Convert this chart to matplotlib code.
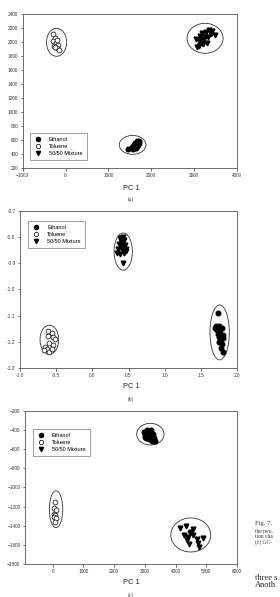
import matplotlib
matplotlib.use('Agg')
from matplotlib import pyplot as plt
from matplotlib.patches import Ellipse

# ---- data ----
# (a)
a_eth_x = [1450, 1543, 1581, 1620, 1660, 1706, 1597, 1674, 1643, 1721, 1566, 1620, 1690, 1610]
a_eth_y = [476, 509, 480, 547, 586, 566, 529, 519, 486, 586, 490, 510, 540, 560]
a_tol_x = [-290, -250, -300, -225, -265, -175, -210, -150, -240, -190]
a_tol_y = [2120, 2060, 2020, 1995, 1950, 1965, 1915, 1885, 1940, 2030]
a_mix_x = [3043, 3121, 3137, 3176, 3190, 3230, 3277, 3307, 3354, 3386, 3487, 3074, 3254, 3331, 3214, 3417, 3121, 3167]
a_mix_y = [2051, 1947, 2090, 1994, 2129, 2043, 2151, 1986, 2176, 2119, 2100, 1937, 2090, 2080, 1976, 2166, 2023, 2043]
a_ellipses = [(-210, 2000, 470, 400), (1565, 535, 623, 270), (3255, 2057, 840, 428)]

# (b)
b_eth_x = [1.734, 1.711, 1.757, 1.790, 1.729, 1.766, 1.803, 1.750, 1.777, 1.757, 1.795, 1.785, 1.803, 1.697, 1.812, 1.740]
b_eth_y = [-1.089, -1.139, -1.141, -1.147, -1.156, -1.166, -1.172, -1.181, -1.191, -1.201, -1.210, -1.222, -1.239, -1.147, -1.187, -1.170]
b_tol_x = [-0.617, -0.562, -0.608, -0.539, -0.516, -0.595, -0.548, -0.654, -0.631, -0.599, -0.562, -0.668]
b_tol_y = [-1.157, -1.167, -1.178, -1.180, -1.190, -1.203, -1.212, -1.218, -1.228, -1.237, -1.227, -1.231]
b_mix_x = [0.38, 0.42, 0.40, 0.44, 0.37, 0.41, 0.45, 0.39, 0.43, 0.36, 0.42, 0.46, 0.34, 0.38, 0.44, 0.47, 0.42]
b_mix_y = [-0.805, -0.800, -0.815, -0.812, -0.825, -0.828, -0.830, -0.840, -0.838, -0.845, -0.850, -0.845,
           -0.862, -0.866, -0.862, -0.852, -0.900]
b_ellipses = [(-0.594, -1.192, 0.258, 0.111), (0.427, -0.855, 0.253, 0.142), (1.76, -1.164, 0.267, 0.21)]

# (c)
c_eth_x = [2960, 3010, 3060, 3110, 3160, 3200, 3250, 3300, 3330, 3050, 3120, 3180, 3240, 2990, 3280, 3150]
c_eth_y = [-420, -450, -400, -430, -470, -405, -440, -490, -515, -490, -500, -460, -520, -470, -470, -420]
c_tol_x = [90, 60, 100, 40, 80, 50, 95, 70]
c_tol_y = [-1150, -1220, -1237, -1273, -1290, -1308, -1325, -1360]
c_mix_x = [4145, 4330, 4578, 4470, 4415, 4363, 4558, 4688, 4903, 4448, 4740, 4773, 4275, 4500]
c_mix_y = [-1421, -1400, -1438, -1480, -1515, -1550, -1497, -1542, -1532, -1591, -1584, -1620, -1497, -1470]
c_ellipses = [(110, -1228, 436, 386), (3180, -445, 890, 226), (4495, -1497, 1300, 355)]

labels = ['Ethanol', 'Toluene', '50/50 Mixture']

W, H = 280, 597
fig = plt.figure(figsize=(W / 100, H / 100), dpi=100)
plt.rcParams['font.family'] = ['Liberation Sans', 'DejaVu Sans']


def px_axes(l, t, r, b):
    return fig.add_axes([l / W, 1 - b / H, (r - l) / W, (b - t) / H])


def panel(ax, eth, tol, mix, ells, legloc):
    ax.plot(eth[0], eth[1], 'o', color='black', markersize=3.3, linestyle='none', label=labels[0])
    ax.plot(tol[0], tol[1], 'o', markerfacecolor='white', markeredgecolor='black', markeredgewidth=0.5,
            markersize=3.5, linestyle='none', label=labels[1])
    ax.plot(mix[0], mix[1], 'v', color='black', markersize=3.4, linestyle='none', label=labels[2])
    for cx, cy, w, h in ells:
        ax.add_patch(Ellipse((cx, cy), w, h, fill=False, lw=0.6, edgecolor='#333333'))
    for s in ax.spines.values():
        s.set_linewidth(0.6)
        s.set_color('#555555')
    ax.tick_params(direction='out', length=1.8, width=0.5, labelsize=3.4, pad=1.5, colors='#333333')
    leg = ax.legend(loc=legloc[0], bbox_to_anchor=legloc[1], fontsize=4.0, frameon=True, fancybox=False,
                    edgecolor='#555555', handletextpad=1.3, borderpad=0.8, labelspacing=0.3,
                    handlelength=1.3, markerscale=0.9)
    leg.get_frame().set_linewidth(0.5)


# (a)
ax1 = px_axes(22.7, 14.3, 237, 168.3)
panel(ax1, (a_eth_x, a_eth_y), (a_tol_x, a_tol_y), (a_mix_x, a_mix_y), a_ellipses, ('lower left', (0.02, 0.035)))
ax1.set_xlim(-1000, 4000)
ax1.set_ylim(200, 2400)
ax1.set_xticks(range(-1000, 4001, 1000))
ax1.set_yticks(range(200, 2401, 200))

# (b)
ax2 = px_axes(20, 211, 237, 368)
panel(ax2, (b_eth_x, b_eth_y), (b_tol_x, b_tol_y), (b_mix_x, b_mix_y), b_ellipses, ('upper left', (0.025, 0.955)))
ax2.set_xlim(-1.0, 2.0)
ax2.set_ylim(-1.3, -0.7)
ax2.set_xticks([-1.0, -0.5, 0.0, 0.5, 1.0, 1.5, 2.0])
ax2.set_yticks([-1.3, -1.2, -1.1, -1.0, -0.9, -0.8, -0.7])
ax2.xaxis.set_major_formatter(matplotlib.ticker.FormatStrFormatter('%.1f'))
ax2.yaxis.set_major_formatter(matplotlib.ticker.FormatStrFormatter('%.1f'))

# (c)
ax3 = px_axes(25, 410.7, 237, 564)
panel(ax3, (c_eth_x, c_eth_y), (c_tol_x, c_tol_y), (c_mix_x, c_mix_y), c_ellipses, ('upper left', (0.025, 0.9)))
ax3.set_xlim(-900, 6000)
ax3.set_ylim(-1800, -200)
ax3.set_xticks(range(0, 6001, 1000))
ax3.set_yticks(range(-1800, -199, 200))


def ftext(x, y, s, **kw):
    fig.text(x / W, 1 - y / H, s, ha=kw.pop('ha', 'center'), va=kw.pop('va', 'center'), **kw)


for y_pc, y_lab, lab in [(188.3, 199, '(a)'), (387, 399, '(b)'), (582.7, 595, '(c)')]:
    ftext(131, y_pc, 'PC 1', fontsize=5.4, color='#222222')
    ftext(131, y_lab, lab, fontsize=4.0, color='#333333', family=['Liberation Serif', 'DejaVu Serif'])

serif = ['Liberation Serif', 'DejaVu Serif']
ftext(255, 524, 'Fig. 7.', fontsize=4.8, ha='left', family=serif, color='#333333')
ftext(255, 530.5, 'the two,', fontsize=4.0, ha='left', family=serif, color='#333333')
ftext(255, 536.5, 'tion cha', fontsize=4.0, ha='left', family=serif, color='#333333')
ftext(255, 542.5, '(c) GC-', fontsize=4.0, ha='left', family=serif, color='#333333')
ftext(255, 578.3, 'three s', fontsize=6.0, ha='left', family=serif, color='#222222')
ftext(255, 585, 'Anoth', fontsize=6.0, ha='left', family=serif, color='#222222')

fig.savefig('out.png', dpi=100)
